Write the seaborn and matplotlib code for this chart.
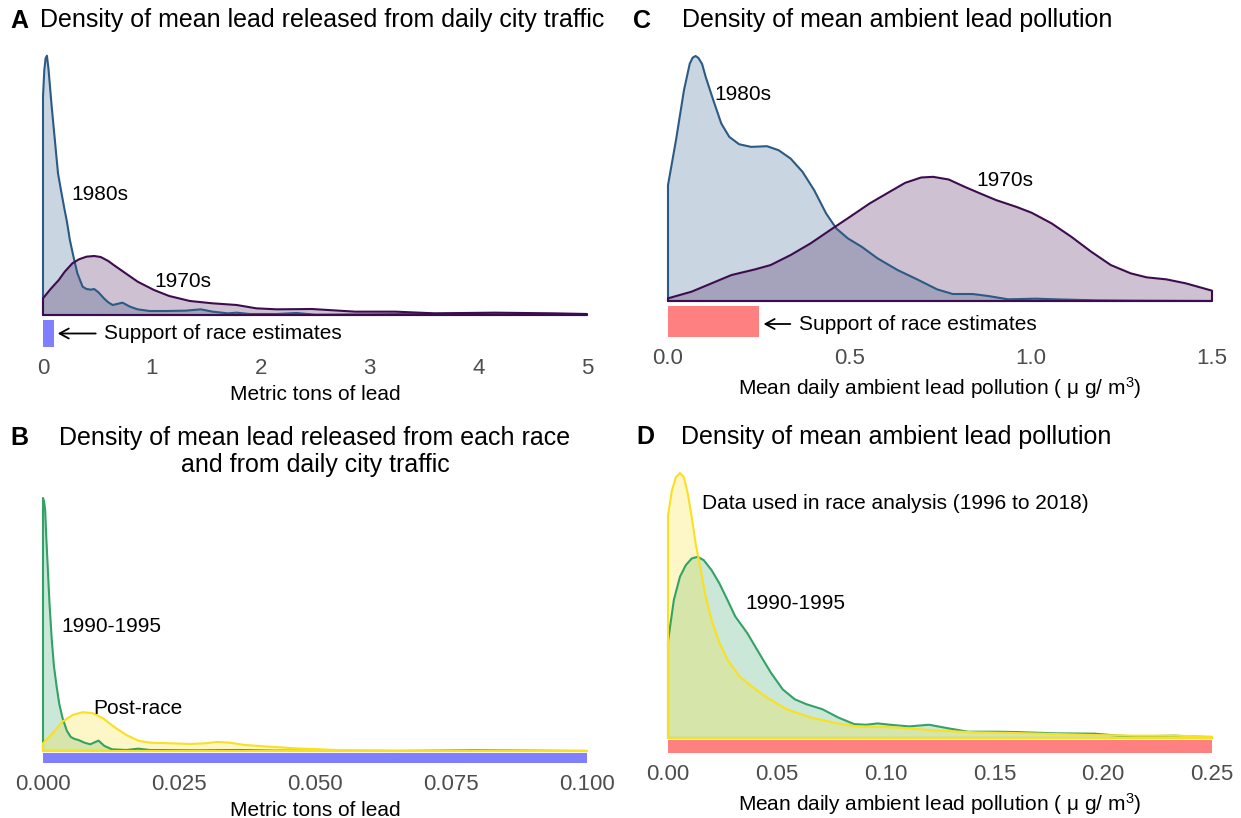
import matplotlib
matplotlib.use("Agg")
import matplotlib.pyplot as plt
from matplotlib.patches import Rectangle
import seaborn as sns

sns.set_theme(style="white")
plt.rcParams["font.family"] = ["Liberation Sans", "DejaVu Sans"]
plt.rcParams["mathtext.fontset"] = "custom"
plt.rcParams["mathtext.rm"] = "Liberation Sans"
plt.rcParams["mathtext.it"] = "Liberation Sans:italic"
plt.rcParams["text.color"] = "black"
plt.rcParams["axes.labelcolor"] = "black"

# ---------------- data (density estimates, arbitrary units) ----------------
# A: lead released from daily city traffic (metric tons)
a_x_1980s = [0, 0.012, 0.024, 0.036, 0.05, 0.08, 0.109, 0.138, 0.165, 0.193, 0.22,
             0.247, 0.28, 0.316, 0.364, 0.40, 0.44, 0.47, 0.51, 0.56, 0.60, 0.64,
             0.68, 0.73, 0.80, 0.87, 0.98, 1.13, 1.31, 1.45, 1.56, 1.70, 1.78, 1.90,
             2.15, 2.33, 2.50, 3.0, 3.78, 4.3, 5.0]
a_d_1980s = [655, 735, 770, 778, 740, 625, 525, 425, 375, 325, 280,
             225, 175, 125, 85, 78, 76, 78, 68, 50, 38, 30,
             33, 37, 25, 17, 12, 12, 13, 17, 10, 5, 7, 3,
             3, 6, 1, 2, 4, 1, 0]
a_x_1970s = [0, 0.07, 0.145, 0.2, 0.27, 0.33, 0.40, 0.47, 0.53, 0.60, 0.65, 0.76,
             0.87, 1.02, 1.16, 1.35, 1.56, 1.78, 1.96, 2.15, 2.47, 2.87, 3.24, 3.6,
             4.15, 4.69, 5.0]
a_d_1970s = [50, 78, 105, 130, 155, 167, 175, 177, 174, 162, 150, 125,
             100, 75, 57, 42, 35, 30, 20, 17, 18, 10, 10, 5,
             7, 5, 3]
a_support = [0.0, 0.1]
a_ticks = [0, 1, 2, 3, 4, 5]
a_ticklabels = ["0", "1", "2", "3", "4", "5"]

# B: lead released from each race and from daily city traffic (metric tons)
b_x_early = [0, 0.0002, 0.0004, 0.0006, 0.0009, 0.0012, 0.0016, 0.002, 0.0025,
             0.003, 0.0036, 0.0044, 0.0051, 0.0058, 0.0065, 0.0076, 0.0087,
             0.0095, 0.0102, 0.0113, 0.0127, 0.0153, 0.0175, 0.0196, 0.028,
             0.036, 0.043, 0.065, 0.079, 0.1]
b_d_early = [756, 745, 720, 640, 540, 440, 335, 255, 193,
             140, 98, 60, 42, 36, 33, 25, 20,
             26, 31, 15, 5, 3, 7, 3, 2,
             3, 1, 0, 2, 0]
b_x_post = [0, 0.0015, 0.0036, 0.0055, 0.0073, 0.0091, 0.011, 0.013, 0.0153,
            0.0175, 0.0196, 0.0233, 0.027, 0.0298, 0.032, 0.0342, 0.0371,
            0.0415, 0.0465, 0.0538, 0.0647, 0.079, 0.1]
b_d_post = [23, 48, 88, 108, 116, 113, 98, 73, 48,
            31, 25, 23, 21, 23, 27, 25, 18,
            13, 8, 3, 1, 0, 0]
b_support = [0.0, 0.1]
b_ticks = [0, 0.025, 0.05, 0.075, 0.1]
b_ticklabels = ["0.000", "0.025", "0.050", "0.075", "0.100"]

# C: ambient lead pollution (ug/m3)
c_x_1980s = [0, 0.022, 0.044, 0.06, 0.068, 0.076, 0.084, 0.094, 0.104, 0.125,
             0.147, 0.169, 0.196, 0.229, 0.273, 0.305, 0.338, 0.371, 0.403,
             0.436, 0.464, 0.496, 0.534, 0.578, 0.633, 0.687, 0.742, 0.785,
             0.84, 0.883, 0.938, 1.014, 1.07, 1.18, 1.29, 1.5]
c_d_1980s = [348, 483, 633, 713, 731, 736, 730, 712, 673, 603,
             533, 493, 471, 463, 465, 453, 428, 388, 333,
             263, 218, 188, 163, 128, 93, 65, 35, 21,
             21, 15, 5, 7, 5, 2, 1, 0]
c_x_1970s = [0, 0.065, 0.12, 0.175, 0.24, 0.283, 0.338, 0.393, 0.447, 0.502,
             0.556, 0.611, 0.654, 0.698, 0.731, 0.774, 0.818, 0.861, 0.905,
             0.96, 1.003, 1.058, 1.112, 1.167, 1.221, 1.276, 1.32, 1.374,
             1.428, 1.5]
c_d_1970s = [8, 28, 53, 78, 95, 108, 138, 173, 213, 253,
             293, 328, 355, 371, 373, 365, 343, 323, 303,
             283, 265, 233, 193, 148, 108, 83, 71, 65,
             53, 31]
c_support = [0.0, 0.25]
c_ticks = [0, 0.5, 1.0, 1.5]
c_ticklabels = ["0.0", "0.5", "1.0", "1.5"]

# D: ambient lead pollution (ug/m3)
d_x_recent = [0, 0.0018, 0.0036, 0.0055, 0.0073, 0.0091, 0.0109, 0.0127, 0.0145,
              0.0173, 0.02, 0.0236, 0.0273, 0.0327, 0.0382, 0.0455, 0.0545,
              0.0655, 0.078, 0.087, 0.105, 0.124, 0.142, 0.16, 0.178, 0.196,
              0.215, 0.233, 0.25]
d_d_recent = [672, 747, 787, 800, 787, 737, 667, 587, 527,
              427, 357, 287, 237, 187, 157, 122, 87,
              62, 44, 35, 32, 22, 17, 15, 12, 9,
              7, 7, 4]
d_x_early = [0, 0.0027, 0.0055, 0.0082, 0.0109, 0.0136, 0.0164, 0.02, 0.0236,
             0.0273, 0.0309, 0.0364, 0.0418, 0.0473, 0.0527, 0.0582, 0.0636,
             0.0709, 0.0782, 0.0855, 0.0909, 0.0964, 0.1036, 0.1109, 0.12,
             0.129, 0.138, 0.151, 0.16, 0.178, 0.196, 0.207, 0.215, 0.233, 0.25]
d_d_early = [292, 417, 487, 522, 542, 547, 537, 507, 467,
             417, 367, 317, 257, 197, 147, 117, 102,
             87, 62, 42, 40, 44, 39, 35, 40,
             29, 19, 19, 18, 14, 13, 7, 5, 7, 2]
d_support = [0.0, 0.25]
d_ticks = [0, 0.05, 0.10, 0.15, 0.20, 0.25]
d_ticklabels = ["0.00", "0.05", "0.10", "0.15", "0.20", "0.25"]

# ---------------- styling ----------------
COL_1980S = "#2b5a84"
COL_1970S = "#3d0c4f"
COL_EARLY = "#33a265"
COL_RECENT = "#f9e021"
COL_SUPPORT_TONS = "#8080ff"
COL_SUPPORT_AMB = "#ff8080"
FILL_ALPHA = 0.25
TICK_COLOR = "#4d4d4d"

W, H = 1241, 818
fig = plt.figure(figsize=(W / 100, H / 100), dpi=100)


def make_axes(left, right, top, bottom, xlim, base, peak_px, peak_val):
    """Axes placed in pixel units; returns the axes and a px -> data-y converter."""
    ax = fig.add_axes([left / W, 1 - bottom / H, (right - left) / W, (bottom - top) / H])
    k = peak_val / (base - peak_px)
    ax.set_xlim(*xlim)
    ax.set_ylim((base - bottom) * k, (base - top) * k)
    for s in ax.spines.values():
        s.set_visible(False)
    ax.set_yticks([])
    ax.tick_params(axis="x", length=0, labelsize=16, labelcolor=TICK_COLOR, pad=8)
    ax.set_facecolor("white")
    return ax, (lambda px: (base - px) * k)


def density(ax, xs, ys, color):
    ax.fill_between(xs, ys, 0, color=color, alpha=FILL_ALPHA, lw=0)
    ox = [xs[0]] + list(xs) + [xs[-1], xs[0]]
    oy = [0] + list(ys) + [0, 0]
    sns.lineplot(x=ox, y=oy, sort=False, estimator=None, color=color,
                 lw=1.5, ax=ax, clip_on=False)


def support_bar(ax, span, y0, y1, color):
    ax.add_patch(Rectangle((span[0], y0), span[1] - span[0], y1 - y0,
                           facecolor=color, edgecolor="none", clip_on=False))


def label(ax, x, y, s):
    ax.text(x, y, s, fontsize=15, ha="left", va="center", color="black")


amb_label = "Mean daily ambient lead pollution ( μ g/ m$^3$)"

# ---- Panel A ----
axA, pyA = make_axes(43, 587, 45, 347, (0, 5), 315, 55.7, 778)
density(axA, a_x_1980s, a_d_1980s, COL_1980S)
density(axA, a_x_1970s, a_d_1970s, COL_1970S)
support_bar(axA, a_support, pyA(347), pyA(320), COL_SUPPORT_TONS)
axA.annotate("", xy=(0.11, pyA(333.5)), xytext=(0.51, pyA(333.5)),
             arrowprops=dict(arrowstyle="->,head_length=0.55,head_width=0.3",
                             lw=1.3, color="black"))
axA.text(0.56, pyA(333.5), "Support of race estimates", fontsize=15,
         ha="left", va="center")
label(axA, 0.265, 363, "1980s")
label(axA, 1.02, 100, "1970s")
axA.set_xticks(a_ticks, a_ticklabels)
axA.set_xlabel("Metric tons of lead", fontsize=15, labelpad=4)

# ---- Panel C ----
axC, pyC = make_axes(668, 1212, 45, 337, (0, 1.5), 301, 56, 736)
density(axC, c_x_1980s, c_d_1980s, COL_1980S)
density(axC, c_x_1970s, c_d_1970s, COL_1970S)
support_bar(axC, c_support, pyC(337), pyC(306), COL_SUPPORT_AMB)
axC.annotate("", xy=(0.256, pyC(324)), xytext=(0.345, pyC(324)),
             arrowprops=dict(arrowstyle="->,head_length=0.55,head_width=0.3",
                             lw=1.3, color="black"))
axC.text(0.361, pyC(324), "Support of race estimates", fontsize=15,
         ha="left", va="center")
label(axC, 0.129, 621, "1980s")
label(axC, 0.85, 363, "1970s")
axC.set_xticks(c_ticks, c_ticklabels)
axC.set_xlabel(amb_label, fontsize=15, labelpad=4)

# ---- Panel B ----
axB, pyB = make_axes(43, 587, 490, 763, (0, 0.1), 751, 498, 756)
density(axB, b_x_early, b_d_early, COL_EARLY)
density(axB, b_x_post, b_d_post, COL_RECENT)
support_bar(axB, b_support, pyB(763), pyB(753), COL_SUPPORT_TONS)
label(axB, 0.0034, 371, "1990-1995")
label(axB, 0.0092, 128, "Post-race")
axB.set_xticks(b_ticks, b_ticklabels)
axB.set_xlabel("Metric tons of lead", fontsize=15, labelpad=4)

# ---- Panel D ----
axD, pyD = make_axes(668, 1212, 465, 753, (0, 0.25), 738, 473, 800)
density(axD, d_x_early, d_d_early, COL_EARLY)
density(axD, d_x_recent, d_d_recent, COL_RECENT)
support_bar(axD, d_support, pyD(753), pyD(740), COL_SUPPORT_AMB)
label(axD, 0.0155, 707, "Data used in race analysis (1996 to 2018)")
label(axD, 0.0355, 407, "1990-1995")
axD.set_xticks(d_ticks, d_ticklabels)
axD.set_xlabel(amb_label, fontsize=15, labelpad=4)

# ---- titles and panel tags ----
def ftext(xpx, ypx, s, **kw):
    fig.text(xpx / W, 1 - ypx / H, s, va="baseline", color="black", **kw)

ftext(10, 27.5, "A", fontsize=18, fontweight="bold")
ftext(40, 27.5, "Density of mean lead released from daily city traffic", fontsize=18)
ftext(633, 27.5, "C", fontsize=18, fontweight="bold")
ftext(682, 27.5, "Density of mean ambient lead pollution", fontsize=18)
ftext(10, 445, "B", fontsize=18, fontweight="bold")
ftext(315, 445, "Density of mean lead released from each race", fontsize=18, ha="center")
ftext(315, 472, "and from daily city traffic", fontsize=18, ha="center")
ftext(636, 444, "D", fontsize=18, fontweight="bold")
ftext(681, 444, "Density of mean ambient lead pollution", fontsize=18)

fig.savefig("out.png", dpi=100, facecolor="white")
